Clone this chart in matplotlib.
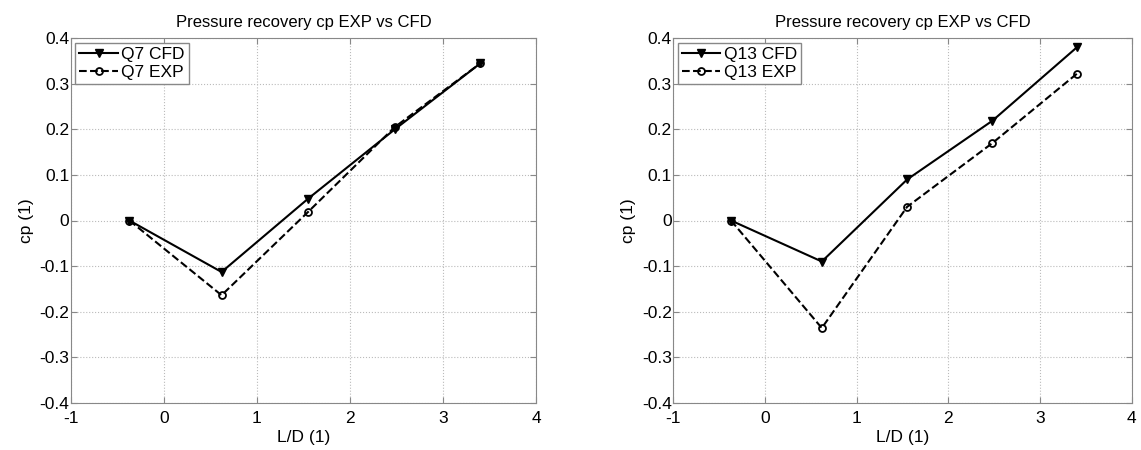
import matplotlib.pyplot as plt

plt.rcParams['font.family'] = ['Liberation Sans', 'DejaVu Sans']

ld = [-0.37, 0.62, 1.55, 2.48, 3.40]

q7_cfd = [0.0, -0.113, 0.048, 0.200, 0.345]
q7_exp = [0.0, -0.164, 0.019, 0.205, 0.345]

q13_cfd = [0.0, -0.090, 0.090, 0.219, 0.380]
q13_exp = [0.0, -0.236, 0.030, 0.170, 0.322]

xticks = [-1, 0, 1, 2, 3, 4]
yticks = [-0.4, -0.3, -0.2, -0.1, 0, 0.1, 0.2, 0.3, 0.4]

panels = [('Q7', q7_cfd, q7_exp), ('Q13', q13_cfd, q13_exp)]

fig = plt.figure(figsize=(11.41, 4.5), dpi=100)
boxes = [[0.062, 0.105, 0.408, 0.81], [0.590, 0.105, 0.402, 0.81]]

for box, (name, cfd, exp) in zip(boxes, panels):
    ax = fig.add_axes(box)
    ax.plot(ld, cfd, '-', color='black', lw=1.5, marker='v', ms=5.5,
            mfc='black', label=name + ' CFD')
    ax.plot(ld, exp, '--', color='black', lw=1.5, marker='o', ms=5,
            mfc='none', mew=1.3, label=name + ' EXP')
    ax.set_xlim(-1, 4)
    ax.set_ylim(-0.4, 0.4)
    ax.set_xticks(xticks)
    ax.set_xticklabels([str(v) for v in xticks])
    ax.set_yticks(yticks)
    ax.set_yticklabels(['%g' % v for v in yticks])
    ax.grid(True, linestyle=':', color='#bbbbbb', lw=0.8)
    ax.tick_params(direction='in', top=True, right=True, labelsize=12.5,
                   length=4, color='#888888')
    ax.tick_params(axis='x', pad=6)
    ax.tick_params(axis='y', pad=1)
    for s in ax.spines.values():
        s.set_color('#888888')
    ax.set_title('Pressure recovery cp EXP vs CFD', fontsize=12, pad=8)
    ax.set_xlabel('L/D (1)', fontsize=12.5, labelpad=3)
    ax.set_ylabel('cp (1)', fontsize=12.5, labelpad=4)
    leg = ax.legend(loc='upper left', fontsize=12.5, handlelength=2.2,
                    handletextpad=0.2, borderpad=0.25, labelspacing=0.15,
                    borderaxespad=0.25, fancybox=False, framealpha=1)
    leg.get_frame().set_edgecolor('#888888')

fig.savefig('out.png', dpi=100)
